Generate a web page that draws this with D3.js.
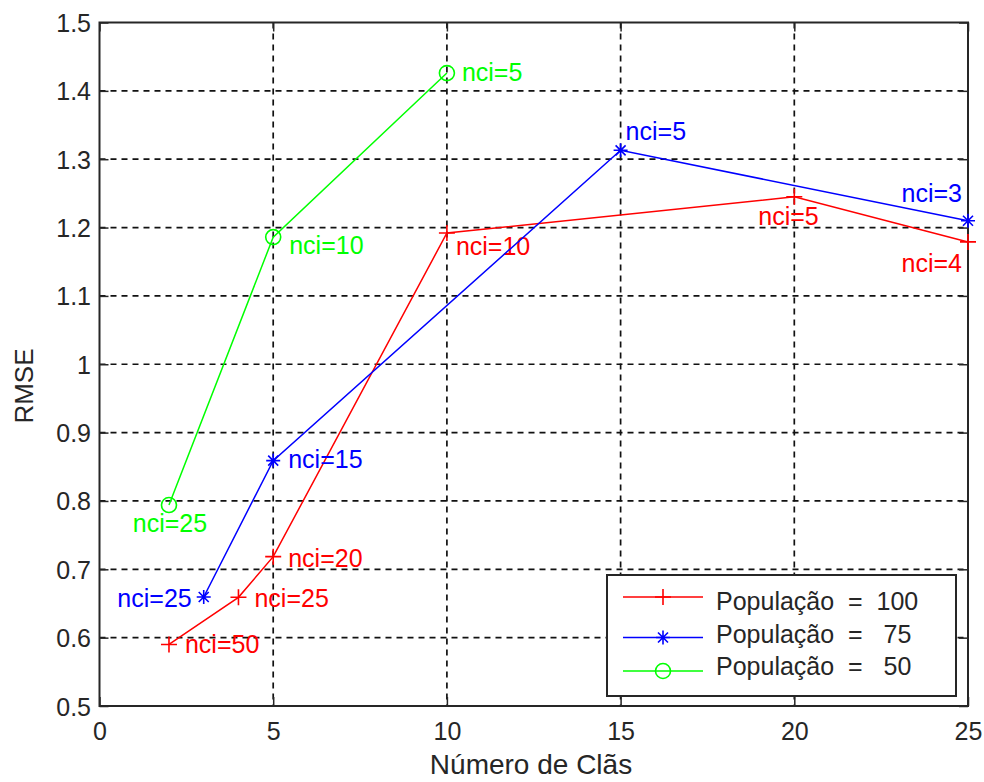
<!DOCTYPE html>
<html>
<head>
<meta charset="utf-8">
<script src="https://cdn.jsdelivr.net/npm/d3@7/dist/d3.min.js"></script>
<style>
  body { margin: 0; background: #fff; }
  svg { display: block; font-family: "Liberation Sans", Arial, sans-serif; }
</style>
</head>
<body>
<svg width="984" height="782"></svg>
<script>
// data
var xTicks = [0, 5, 10, 15, 20, 25];
var yTicks = [0.5, 0.6, 0.7, 0.8, 0.9, 1, 1.1, 1.2, 1.3, 1.4, 1.5];

var redX = [2, 4, 5, 10, 20, 25];
var redY = [0.590, 0.659, 0.7185, 1.192, 1.245, 1.179];
var redLabels = ["nci=50", "nci=25", "nci=20", "nci=10", "nci=5", "nci=4"];

var blueX = [3, 5, 15, 25];
var blueY = [0.6595, 0.859, 1.313, 1.210];
var blueLabels = ["nci=25", "nci=15", "nci=5", "nci=3"];

var greenX = [2, 5, 10];
var greenY = [0.794, 1.186, 1.426];
var greenLabels = ["nci=25", "nci=10", "nci=5"];

var legendNames = ["População  =  100", "População  =   75", "População  =   50"];

// label placement (pixels relative to the point)
var redOffsets = [[16, 9, "start"], [16, 10, "start"], [15, 10, "start"], [9, 22, "start"], [-36, 28, "start"], [-6, 30, "end"]];
var blueOffsets = [[-12, 10, "end"], [15, 7, "start"], [5, -10, "start"], [-6, -19, "end"]];
var greenOffsets = [[1, 27, "middle"], [16, 17, "start"], [15, 8, "start"]];

var svg = d3.select("svg");
var mLeft = 99.5, mRight = 968, mTop = 22.5, mBottom = 706;

var x = d3.scaleLinear().domain([0, 25]).range([mLeft, mRight]);
var y = d3.scaleLinear().domain([0.5, 1.5]).range([mBottom, mTop]);
var fmt = function(d) { return String(+d.toFixed(1)); };

// grid
var grid = svg.append("g")
	.attr("stroke", "#111")
	.attr("stroke-width", 1.7)
	.attr("stroke-dasharray", "6,5");
grid.selectAll("line.gx")
	.data(xTicks.slice(1, -1))
	.enter().append("line")
	.attr("x1", function(d) { return x(d); })
	.attr("x2", function(d) { return x(d); })
	.attr("y1", mTop).attr("y2", mBottom);
grid.selectAll("line.gy")
	.data(yTicks.slice(1, -1))
	.enter().append("line")
	.attr("y1", function(d) { return y(d); })
	.attr("y2", function(d) { return y(d); })
	.attr("x1", mLeft).attr("x2", mRight);

// axes with inward ticks
function styleAxis(g) {
	g.select(".domain").remove();
	g.selectAll(".tick line").attr("stroke", "#262626").attr("stroke-width", 1.5);
	g.selectAll(".tick text")
		.attr("fill", "#262626")
		.style("font-size", "25px")
		.style("font-family", "Liberation Sans, Arial, sans-serif");
}
svg.append("g")
	.attr("transform", "translate(0," + mBottom + ")")
	.call(d3.axisBottom(x).tickValues(xTicks).tickFormat(fmt).tickSize(-9).tickPadding(16))
	.call(styleAxis);
svg.append("g")
	.attr("transform", "translate(" + mLeft + ",0)")
	.call(d3.axisLeft(y).tickValues(yTicks).tickFormat(fmt).tickSize(-9).tickPadding(8.5))
	.call(styleAxis)
	.selectAll(".tick text").attr("dy", "0.36em");
svg.append("g")
	.attr("transform", "translate(0," + mTop + ")")
	.call(d3.axisTop(x).tickValues(xTicks).tickFormat("").tickSize(-9))
	.call(styleAxis);
svg.append("g")
	.attr("transform", "translate(" + mRight + ",0)")
	.call(d3.axisRight(y).tickValues(yTicks).tickFormat("").tickSize(-9))
	.call(styleAxis);

svg.append("rect")
	.attr("x", mLeft).attr("y", mTop)
	.attr("width", mRight - mLeft).attr("height", mBottom - mTop)
	.attr("fill", "none")
	.attr("stroke", "#262626")
	.attr("stroke-width", 2);

// axis labels
svg.append("text")
	.attr("x", 531).attr("y", 774)
	.attr("text-anchor", "middle")
	.attr("fill", "#262626")
	.style("font-size", "28px")
	.text("Número de Clãs");
svg.append("text")
	.attr("transform", "translate(33,386) rotate(-90)")
	.attr("text-anchor", "middle")
	.attr("fill", "#262626")
	.style("font-size", "26px")
	.text("RMSE");

// markers
function drawMarker(g, type, color) {
	if (type === "plus") {
		g.append("path").attr("d", "M-8,0H8M0,-8V8");
	} else if (type === "star") {
		g.append("path").attr("d", "M-7,0H7M0,-7V7M-5,-5L5,5M-5,5L5,-5");
	} else {
		g.append("circle").attr("r", 7.5).attr("fill", "none");
	}
	g.attr("stroke", color).attr("stroke-width", 1.6).attr("fill", "none");
}

var series = [
	{xs: redX, ys: redY, labels: redLabels, offsets: redOffsets, color: "#ff0000", marker: "plus"},
	{xs: blueX, ys: blueY, labels: blueLabels, offsets: blueOffsets, color: "#0000ff", marker: "star"},
	{xs: greenX, ys: greenY, labels: greenLabels, offsets: greenOffsets, color: "#00ff00", marker: "circle"}
];

var line = d3.line()
	.x(function(d) { return x(d[0]); })
	.y(function(d) { return y(d[1]); });

series.forEach(function(s) {
	var pts = d3.zip(s.xs, s.ys);
	svg.append("path")
		.datum(pts)
		.attr("d", line)
		.attr("fill", "none")
		.attr("stroke", s.color)
		.attr("stroke-width", 1.5);
	pts.forEach(function(p, i) {
		var g = svg.append("g").attr("transform", "translate(" + x(p[0]) + "," + y(p[1]) + ")");
		drawMarker(g, s.marker, s.color);
		var o = s.offsets[i];
		svg.append("text")
			.attr("x", x(p[0]) + o[0])
			.attr("y", y(p[1]) + o[1])
			.attr("text-anchor", o[2])
			.attr("fill", s.color)
			.style("font-size", "25px")
			.text(s.labels[i]);
	});
});

// legend
var legend = svg.append("g");
legend.append("rect")
	.attr("x", 607).attr("y", 575)
	.attr("width", 349).attr("height", 121)
	.attr("fill", "#fff")
	.attr("stroke", "#262626")
	.attr("stroke-width", 2);
var rowLine = [597, 637.5, 671];
var rowText = [610, 643, 675];
series.forEach(function(s, i) {
	legend.append("line")
		.attr("x1", 623).attr("x2", 703)
		.attr("y1", rowLine[i]).attr("y2", rowLine[i])
		.attr("stroke", s.color).attr("stroke-width", 1.5);
	drawMarker(legend.append("g").attr("transform", "translate(663," + rowLine[i] + ")"), s.marker, s.color);
	legend.append("text")
		.attr("x", 716).attr("y", rowText[i])
		.attr("fill", "#262626")
		.style("font-size", "25px")
		.style("white-space", "pre")
		.text(legendNames[i]);
});
</script>
</body>
</html>
